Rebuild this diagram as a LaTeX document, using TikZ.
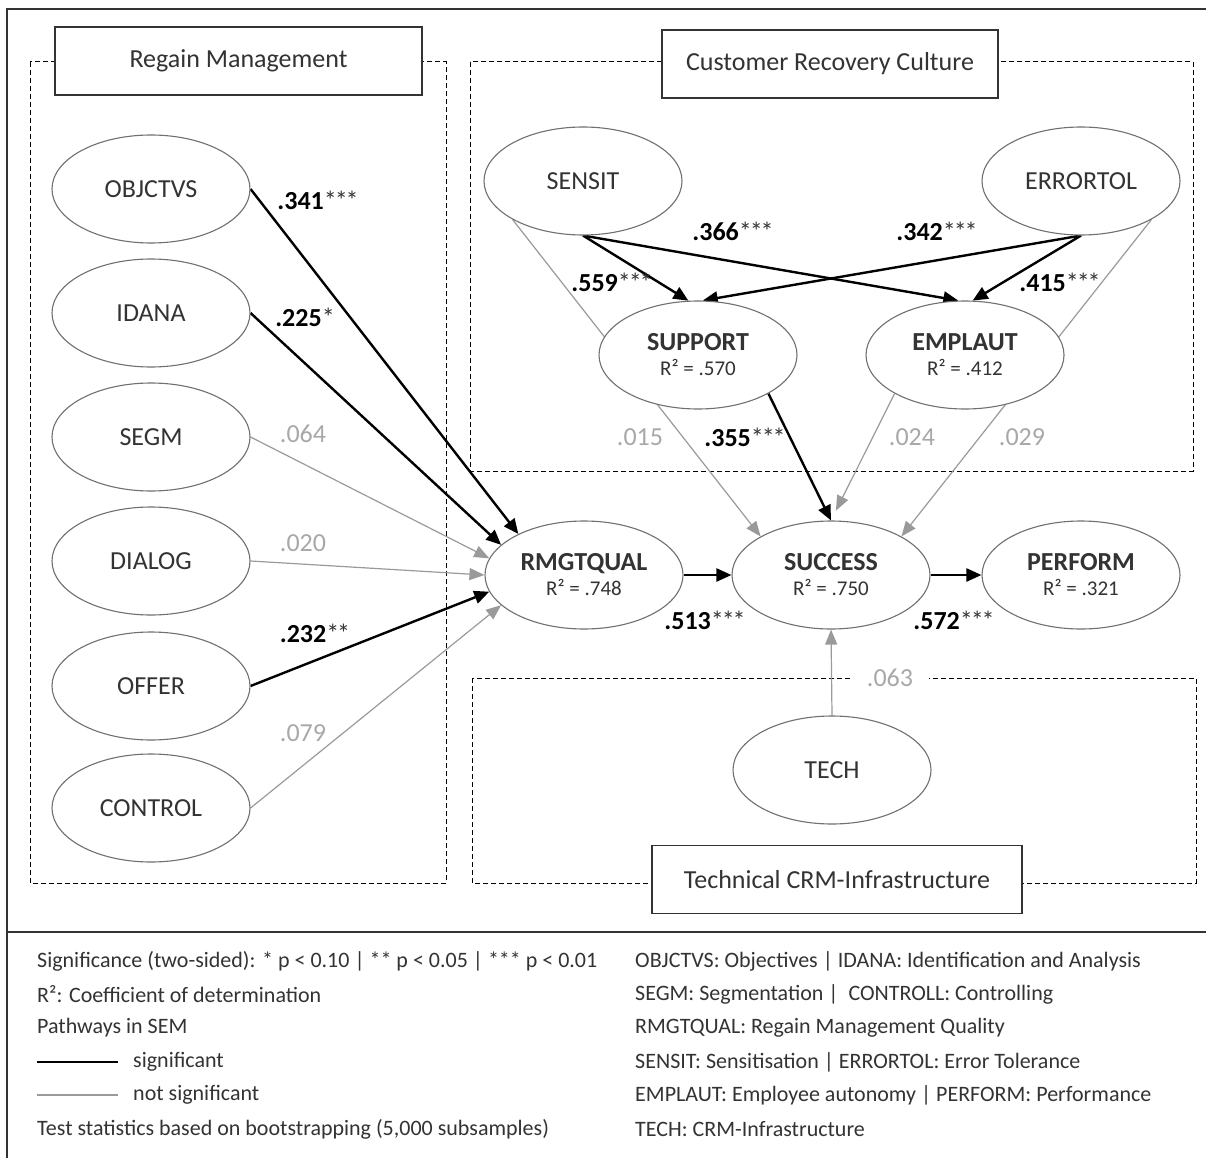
\documentclass[tikz,border=0pt]{standalone}
\usepackage{fontspec}
\setmainfont{Carlito}
\usetikzlibrary{arrows.meta,shapes.geometric}
\pgfdeclarelayer{bg}
\pgfsetlayers{bg,main}
\definecolor{nsgray}{HTML}{9A9A9A}
\definecolor{lblgray}{HTML}{A8A8A8}
\definecolor{rimgray}{HTML}{707070}
\definecolor{txt}{HTML}{333333}
\newcommand\astk[1]{{\mdseries\color{txt}\addfontfeature{LetterSpace=-8}#1}}
\newcommand\rsq[1]{\\[-3pt]{\mdseries\fontsize{21}{23}\selectfont\color{txt}R² = #1}}
\begin{document}
\begin{tikzpicture}[x=1pt,y=-1pt,
 lv/.style={ellipse,draw=rimgray,line width=1.1pt,fill=white,minimum width=198pt,minimum height=108pt,inner sep=0pt,text=txt,align=center,font=\fontsize{26}{28}\selectfont},
 titlebox/.style={rectangle,draw=black!80,line width=1.2pt,fill=white,minimum width=#1,minimum height=68pt,inner sep=0pt,text=txt,font=\fontsize{26}{28}\selectfont},
 grp/.style={draw=black,line width=1pt,dash pattern=on 5pt off 3pt},
 sig/.style={draw=black,line width=2.4pt,-{Triangle[length=15pt,width=13pt]}},
 ns/.style={draw=nsgray,line width=1.2pt,-{Triangle[length=15pt,width=12pt]}},
 coef/.style={font=\fontsize{26}{28}\selectfont\bfseries,text=black,inner sep=1pt},
 coefns/.style={font=\fontsize{26}{28}\selectfont,text=lblgray,inner sep=1pt},
 leg/.style={anchor=west,font=\fontsize{22}{24}\selectfont,text=txt,inner sep=0pt},
 frame/.style={draw=black!80,line width=1.3pt}
]
\useasboundingbox (0,0) rectangle (1206,1158);

% latent variables
\node[lv] (objctvs) at (151,189) {OBJCTVS};
\node[lv] (idana) at (151,313) {IDANA};
\node[lv] (segm) at (151,437) {SEGM};
\node[lv] (dialog) at (151,561) {DIALOG};
\node[lv] (offer) at (151,686) {OFFER};
\node[lv] (control) at (151,808) {CONTROL};
\node[lv] (sensit) at (583,181) {SENSIT};
\node[lv] (errortol) at (1081,181) {ERRORTOL};
\node[lv] (support) at (698,355) {\textbf{SUPPORT}\rsq{.570}};
\node[lv] (emplaut) at (965,355) {\textbf{EMPLAUT}\rsq{.412}};
\node[lv] (rmgtqual) at (584,575) {\textbf{RMGTQUAL}\rsq{.748}};
\node[lv] (success) at (831,575) {\textbf{SUCCESS}\rsq{.750}};
\node[lv] (perform) at (1081,575) {\textbf{PERFORM}\rsq{.321}};
\node[lv] (tech) at (832,770) {TECH};

% background, frame, groups and paths behind the nodes
\begin{pgfonlayer}{bg}
\fill[white] (0,0) rectangle (1206,1158);
\coordinate (fbl) at (7,1158);
\coordinate (ftl) at (7,9);
\coordinate (ftr) at (1206,9);
\coordinate (fsl) at (7,932);
\coordinate (fsr) at (1206,932);
\draw[frame] (fbl) -- (ftl) -- (ftr);
\draw[frame] (fsl) -- (fsr);

\draw[grp] (30,62) rectangle (446,883);
\draw[grp] (470,62) rectangle (1193,471);
\draw[grp] (472,678) rectangle (1196,883);

\draw[sig] (objctvs.east) -- (rmgtqual.148);
\draw[sig] (idana.east) -- (rmgtqual.160);
\draw[ns] (segm.east) -- (rmgtqual.170);
\draw[ns] (dialog.east) -- (rmgtqual.180);
\draw[sig] (offer.east) -- (rmgtqual.190);
\draw[ns] (control.east) -- (rmgtqual.200);

\draw[sig] (sensit.south) -- (support.100);
\draw[sig] (sensit.south) -- (emplaut.97);
\draw[sig] (errortol.south) -- (support.85);
\draw[sig] (errortol.south) -- (emplaut.82);

\draw[ns] (sensit.south west) -- (success.north west);
\draw[ns] (errortol.south east) -- (success.north east);
\draw[sig] (support.south east) -- (success.north);
\draw[ns,shorten >=11pt] (emplaut.south west) -- (success.north);

\draw[sig] (rmgtqual.east) -- (success.west);
\draw[sig] (success.east) -- (perform.west);
\draw[ns] (tech.north) -- (success.south);
\end{pgfonlayer}

% group titles
\node[titlebox=367pt] (tregain) at (238.5,61) {Regain Management};
\node[titlebox=336pt] (tculture) at (830,64) {Customer Recovery Culture};
\node[titlebox=370pt] (ttech) at (837,879.5) {Technical CRM-Infrastructure};

% coefficients
\node[coef] (c1) at (318,200) {.341\astk{***}};
\node[coef] (c2) at (305,317) {.225\astk{*}};
\node[coefns] (c3) at (303,434) {.064};
\node[coefns] (c4) at (303,543) {.020};
\node[coef] (c5) at (315,633) {.232\astk{**}};
\node[coefns] (c6) at (303,733) {.079};
\node[coef] (c7) at (612,282) {.559\astk{***}};
\node[coef] (c8) at (733,231) {.366\astk{***}};
\node[coef] (c9) at (937,231) {.342\astk{***}};
\node[coef] (c10) at (1060,282) {.415\astk{***}};
\node[coefns] (c11) at (640,437) {.015};
\node[coef] (c12) at (745,437) {.355\astk{***}};
\node[coefns] (c13) at (912,437) {.024};
\node[coefns] (c14) at (1022,437) {.029};
\node[coef] (c15) at (705,620) {.513\astk{***}};
\node[coef] (c16) at (954,620) {.572\astk{***}};
\node[coefns,fill=white,inner xsep=16pt] (c17) at (890,678) {.063};

% legend
\node[leg] (l1) at (37,961) {Significance (two-sided): * p < 0.10 | ** p < 0.05 | *** p < 0.01};
\node[leg] (l2) at (37,994) {R²: Coefficient of determination};
\node[leg] (l3) at (37,1028) {Pathways in SEM};
\coordinate (ls1) at (37,1062);
\node[leg] (l4) at (133,1062) {significant};
\coordinate (ls2) at (37,1095);
\node[leg] (l5) at (133,1095) {not significant};
\draw[draw=black,line width=2.4pt,shorten >=15pt] (ls1) -- (l4.west);
\draw[draw=nsgray,line width=1.2pt,shorten >=15pt] (ls2) -- (l5.west);
\node[leg] (l6) at (37,1129) {Test statistics based on bootstrapping (5,000 subsamples)};

\node[leg] (r1) at (635,961) {OBJCTVS: Objectives | IDANA: Identification and Analysis};
\node[leg] (r2) at (635,994) {SEGM: Segmentation |\ \ CONTROLL: Controlling};
\node[leg] (r3) at (635,1028) {RMGTQUAL: Regain Management Quality};
\node[leg] (r4) at (635,1062) {SENSIT: Sensitisation | ERRORTOL: Error Tolerance};
\node[leg] (r5) at (635,1095) {EMPLAUT: Employee autonomy | PERFORM: Performance};
\node[leg] (r6) at (635,1129) {TECH: CRM-Infrastructure};
\end{tikzpicture}
\end{document}
